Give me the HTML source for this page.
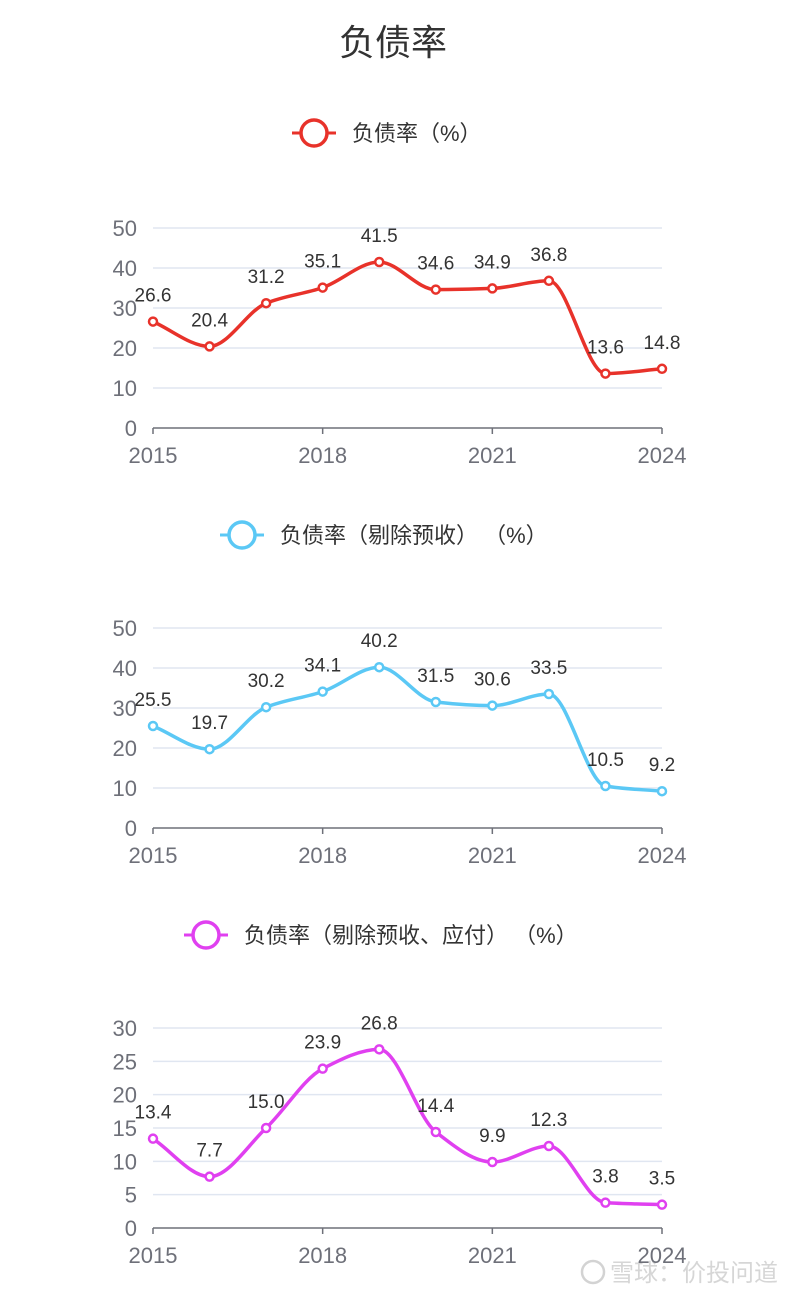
<!DOCTYPE html>
<html><head><meta charset="utf-8">
<style>
body{margin:0;background:#fff;width:790px;height:1296px;overflow:hidden;font-family:"Liberation Sans","Noto Sans CJK SC",sans-serif;}
svg text{font-family:"Liberation Sans","Noto Sans CJK SC",sans-serif;}
</style></head>
<body>
<svg id="c" width="790" height="1296">
<text x="393" y="55" text-anchor="middle" font-size="36" fill="#333">负债率</text>
<g opacity="0.85">
<circle cx="593" cy="1272" r="11" fill="none" stroke="#ccc" stroke-width="2.5"/>
<text x="610" y="1281" font-size="24" fill="#d0d0d0">雪球：价投问道</text>
</g>
</svg>
<script>
const years=[2015,2016,2017,2018,2019,2020,2021,2022,2023,2024];
const tickYears=["2015","2018","2021","2024"];
const s1=[26.6,20.4,31.2,35.1,41.5,34.6,34.9,36.8,13.6,14.8];
const s2=[25.5,19.7,30.2,34.1,40.2,31.5,30.6,33.5,10.5,9.2];
const s3=[13.4,7.7,15.0,23.9,26.8,14.4,9.9,12.3,3.8,3.5];
const ticks1=[0,10,20,30,40,50];
const ticks3=[0,5,10,15,20,25,30];
const names=["负债率（%）","负债率（剔除预收） （%）","负债率（剔除预收、应付） （%）"];
const svg=document.getElementById('c');
const NS='http://www.w3.org/2000/svg';
function mk(t,a,p){const e=document.createElementNS(NS,t);for(const k in a)e.setAttribute(k,a[k]);(p||svg).appendChild(e);return e;}
function chart(idx,data,ticks,color,legY,y0,legX){
  const g=mk('g',{});
  
  
  const maxV=ticks[ticks.length-1];
  const x=i=>153+i*(662-153)/9;
  const y=v=>y0-v*200/maxV;
  const lg=mk('g',{},g);
  
  
  mk('line',{x1:legX,y1:legY,x2:legX+44,y2:legY,stroke:color,'stroke-width':3},lg);
  mk('circle',{cx:legX+22,cy:legY,r:13,fill:'#fff',stroke:color,'stroke-width':3.5},lg);
  const lt=mk('text',{x:legX+60,y:legY+8,'font-size':22,fill:'#333'},lg);lt.textContent=names[idx];
  ticks.forEach(t=>{
    if(t>0){const gl=mk('line',{x1:153,x2:662,y1:y(t),y2:y(t),stroke:'#e0e6f1','stroke-width':1.5},g);
    }
    const tx=mk('text',{x:137,y:y(t)+8,'text-anchor':'end','font-size':22,fill:'#6e7079'},g);
    
    tx.textContent=t;
  });
  mk('line',{x1:153,x2:662,y1:y0,y2:y0,stroke:'#6e7079','stroke-width':1.5},g);
  tickYears.forEach(ty=>{
    const i=years.indexOf(+ty);
    mk('line',{x1:x(i),x2:x(i),y1:y0,y2:y0+6,stroke:'#6e7079','stroke-width':1.5},g);
    const tx=mk('text',{x:x(i),y:y0+35,'text-anchor':'middle','font-size':22,fill:'#6e7079'},g);
    
    tx.textContent=ty;
  });
  // monotone cubic
  const P=data.map((v,i)=>[x(i),y(v)]);
  const n=P.length,h=P[1][0]-P[0][0];
  const dl=[];for(let i=0;i<n-1;i++)dl.push((P[i+1][1]-P[i][1])/h);
  const m=[];
  for(let i=0;i<n;i++){
    if(i===0)m.push(dl[0]);else if(i===n-1)m.push(dl[n-2]);
    else if(dl[i-1]*dl[i]<=0)m.push(0);
    else m.push(2/(1/dl[i-1]+1/dl[i]));
  }
  let d='M'+P[0][0]+','+P[0][1];
  for(let i=0;i<n-1;i++){
    d+=' C'+(P[i][0]+h/3)+','+(P[i][1]+m[i]*h/3)+' '+(P[i+1][0]-h/3)+','+(P[i+1][1]-m[i+1]*h/3)+' '+P[i+1][0]+','+P[i+1][1];
  }
  const ln=mk('path',{d:d,fill:'none',stroke:color,'stroke-width':3.5},g);
  
  
  data.forEach((v,i)=>{
    const c=mk('circle',{cx:x(i),cy:y(v),r:4,fill:'#fff',stroke:color,'stroke-width':2.5},g);
    
    
    const t=mk('text',{x:x(i),y:y(v)-20,'text-anchor':'middle','font-size':19,fill:'#333'},g);
    
    
    t.textContent=v.toFixed(1);
  });
}
chart(0,s1,ticks1,'#e8322a',133,428,292);
chart(1,s2,ticks1,'#5bc8f5',535,828,220);
chart(2,s3,ticks3,'#e040f0',935,1228,184);
</script>
</body></html>
